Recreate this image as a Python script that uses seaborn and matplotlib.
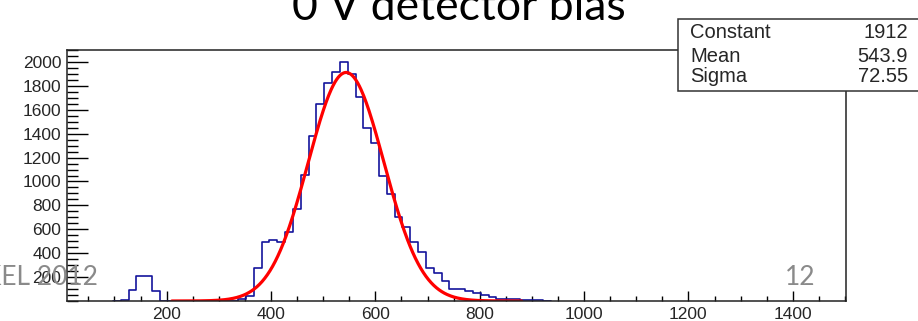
import numpy as np
import pandas as pd
import matplotlib
matplotlib.use("Agg")
import matplotlib.pyplot as plt
import seaborn as sns
from matplotlib.ticker import MultipleLocator, FixedLocator
from matplotlib.patches import Rectangle

# ---------------- data ----------------
title = "0 V detector bias"
footer_left = "KEL 2012"
page_number = "12"

bin_start = 97.0     # left edge of first listed bin
bin_width = 15.0
counts = [0, 10, 90, 210, 210, 80, 0, 0, 0, 0, 0, 0, 0, 0, 0,
          3, 15, 40, 280, 490, 512, 490, 581, 771, 1052, 1380, 1650, 1826,
          1920, 2001, 1900, 1703, 1448, 1319, 1050, 896, 701, 618, 490, 410,
          278, 233, 165, 103, 103, 80, 63, 52, 33, 19, 13, 13, 5, 5, 5, 0]

fit_names = ["Constant", "Mean", "Sigma"]
fit_values = [1912, 543.9, 72.55]
fit_labels = ["1912", "543.9", "72.55"]
fit_range = [210, 880]

x_ticks = [200, 400, 600, 800, 1000, 1200, 1400]
y_ticks = [200, 400, 600, 800, 1000, 1200, 1400, 1600, 1800, 2000]
x_limits = [9, 1502]
y_limits = [0, 2100]

# ---------------- figure ----------------
sns.set_style("white")
plt.rcParams["font.family"] = ["Liberation Sans", "DejaVu Sans"]

W, H = 918, 321
fig = plt.figure(figsize=(W / 100, H / 100), dpi=100)
ax = fig.add_axes([67 / W, 1 - 301 / H, (846 - 67) / W, (301 - 50) / H])

edges = [float(e) for e in bin_start + bin_width * np.arange(len(counts) + 1)]
centers = [e + bin_width / 2 for e in edges[:-1]]
hist_df = pd.DataFrame({"x": centers, "w": counts})
sns.histplot(data=hist_df, x="x", weights="w", bins=edges, element="step",
             fill=False, color="#14149c", linewidth=1.2, ax=ax)

const, mean, sigma = fit_values
xf = np.linspace(fit_range[0], fit_range[1], 400)
fit_df = pd.DataFrame({"x": xf, "y": const * np.exp(-0.5 * ((xf - mean) / sigma) ** 2)})
sns.lineplot(data=fit_df, x="x", y="y", color="#ff0000", linewidth=2.3, ax=ax)

ax.set_xlim(*x_limits)
ax.set_ylim(*y_limits)
ax.set_xlabel("")
ax.set_ylabel("")
ax.xaxis.set_major_locator(FixedLocator(x_ticks))
ax.yaxis.set_major_locator(FixedLocator(y_ticks))
ax.xaxis.set_minor_locator(MultipleLocator(50))
ax.yaxis.set_minor_locator(MultipleLocator(50))
ax.tick_params(axis="x", which="major", direction="in", length=7.2, width=1.0,
               color="black", labelsize=12.5, pad=4, bottom=True, top=False)
ax.tick_params(axis="x", which="minor", direction="in", length=3.6, width=1.0,
               color="black", bottom=True, top=False)
ax.tick_params(axis="y", which="major", direction="in", length=15, width=1.0,
               color="black", labelsize=12.5, pad=4, left=True, right=False)
ax.tick_params(axis="y", which="minor", direction="in", length=8, width=1.0,
               color="black", left=True, right=False)
for s in ax.spines.values():
    s.set_visible(True)
    s.set_color("#222222")
    s.set_linewidth(1.1)

# title (partly cut off at the top)
fig.text(0.5, 1 - 20 / H, title, ha="center", va="baseline",
         fontsize=32, family=["Lato", "DejaVu Sans"], color="black")

# slide footer texts
fig.text(98 / W, 1 - 285 / H, footer_left, ha="right", va="baseline",
         fontsize=19, family=["Lato", "DejaVu Sans"], color="#8a8a8a", zorder=6)
fig.text(816 / W, 1 - 285 / H, page_number, ha="right", va="baseline",
         fontsize=19, family=["Lato", "DejaVu Sans"], color="#8a8a8a", zorder=6)

# stats box
bx0, by0, bx1, by1 = 677.7, 19, 920, 90.7
fig.patches.append(Rectangle((bx0 / W, 1 - by1 / H), (bx1 - bx0) / W, (by1 - by0) / H,
                             transform=fig.transFigure, facecolor="white",
                             edgecolor="#333333", linewidth=1.1, zorder=5))
row_base = [38.3, 61.5, 82.0]
for name, lab, yb in zip(fit_names, fit_labels, row_base):
    fig.text(690 / W, 1 - yb / H, name, ha="left", va="baseline", fontsize=14.5, zorder=6)
    fig.text(908 / W, 1 - yb / H, lab, ha="right", va="baseline", fontsize=14.5, zorder=6)

fig.savefig("out.png", dpi=100)
